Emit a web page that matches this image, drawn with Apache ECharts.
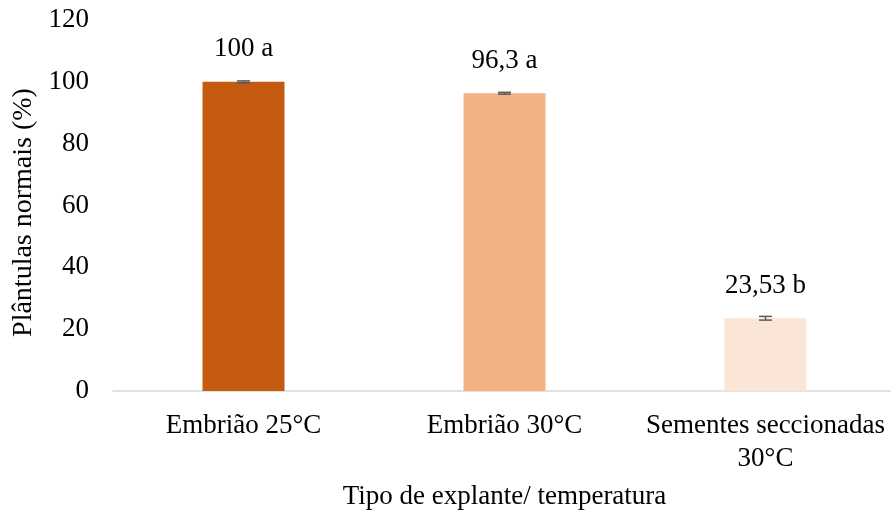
<!DOCTYPE html>
<html>
<head>
<meta charset="utf-8">
<script src="https://cdn.jsdelivr.net/npm/echarts@6/dist/echarts.min.js"></script>
<style>html,body{margin:0;padding:0;background:#fff}#c{width:891px;height:510px}</style>
</head>
<body>
<div id="c"></div>
<script>
var categories = ['Embrião 25°C', 'Embrião 30°C', 'Sementes seccionadas\n30°C'];
var values = [100, 96.3, 23.53];
var errors = [0.3, 0.3, 0.6];
var valueLabels = ['100 a', '96,3 a', '23,53 b'];
var colors = ['#C55A11', '#F4B183', '#FBE5D6'];
var yTicks = [0, 20, 40, 60, 80, 100, 120];

var FONT = '"Liberation Serif", "Times New Roman", serif';
var chart = echarts.init(document.getElementById('c'));
chart.setOption({
  animation: false,
  textStyle: { fontFamily: FONT },
  grid: { left: 113, right: -5, top: 20, bottom: 119, outerBoundsMode: 'none', containLabel: false },
  xAxis: {
    type: 'category',
    data: categories,
    name: 'Tipo de explante/ temperatura',
    nameLocation: 'middle',
    nameGap: 92,
    nameTextStyle: { fontFamily: FONT, fontSize: 27, color: '#000' },
    axisLine: { lineStyle: { color: '#d9d9d9', width: 1.5 } },
    axisTick: { show: false },
    axisLabel: { interval: 0, fontFamily: FONT, fontSize: 27, color: '#000', margin: 18, lineHeight: 33 }
  },
  yAxis: {
    type: 'value',
    min: yTicks[0],
    max: yTicks[yTicks.length - 1],
    interval: 20,
    name: 'Plântulas normais (%)',
    nameLocation: 'middle',
    nameGap: 72,
    nameTextStyle: { fontFamily: FONT, fontSize: 28, color: '#000', padding: [0, 14, 0, 0] },
    axisLine: { show: false },
    axisTick: { show: false },
    splitLine: { show: false },
    axisLabel: { fontFamily: FONT, fontSize: 27, color: '#000', margin: 24 }
  },
  series: [
    {
      type: 'bar',
      barWidth: 82,
      data: values.map(function (v, i) { return { value: v, itemStyle: { color: colors[i] } }; }),
      label: {
        show: true,
        position: 'top',
        distance: 19,
        fontFamily: FONT,
        fontSize: 27,
        color: '#000',
        formatter: function (p) { return valueLabels[p.dataIndex]; }
      }
    },
    {
      type: 'custom',
      data: values.map(function (v, i) { return [i, v, errors[i]]; }),
      z: 10,
      renderItem: function (params, api) {
        var x = api.value(0), v = api.value(1), e = api.value(2);
        var hi = api.coord([x, v + e]);
        var lo = api.coord([x, v - e]);
        var hw = 6.5;
        var style = { stroke: '#595959', lineWidth: 1.5 };
        return {
          type: 'group',
          children: [
            { type: 'line', shape: { x1: hi[0], y1: hi[1], x2: lo[0], y2: lo[1] }, style: style },
            { type: 'line', shape: { x1: hi[0] - hw, y1: hi[1], x2: hi[0] + hw, y2: hi[1] }, style: style },
            { type: 'line', shape: { x1: lo[0] - hw, y1: lo[1], x2: lo[0] + hw, y2: lo[1] }, style: style }
          ]
        };
      }
    }
  ]
});
</script>
</body>
</html>
